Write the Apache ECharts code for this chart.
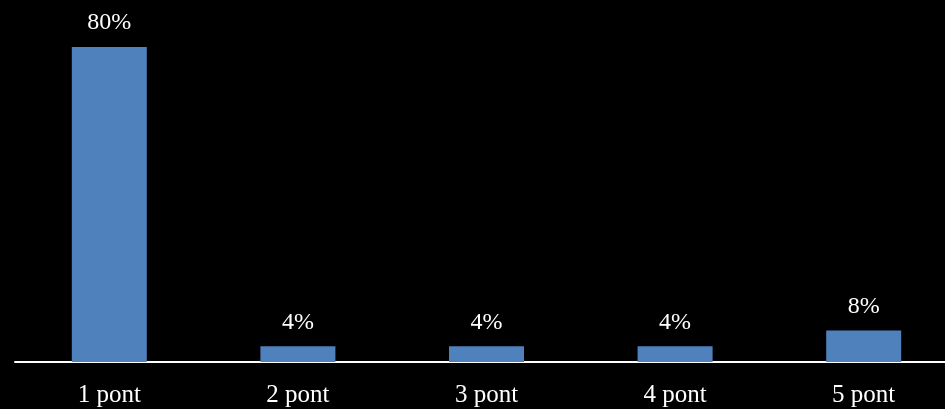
<!DOCTYPE html>
<html>
<head>
<meta charset="utf-8">
<style>
html,body{margin:0;padding:0;background:#000;overflow:hidden;width:945px;height:409px;}
#chart{width:958px;height:409px;}
</style>
<script src="https://cdn.jsdelivr.net/npm/echarts@6/dist/echarts.min.js"></script>
</head>
<body>
<div id="chart"></div>
<script>
const categories = ['1 pont', '2 pont', '3 pont', '4 pont', '5 pont'];
const values = [80, 4, 4, 4, 8];

const chart = echarts.init(document.getElementById('chart'));
chart.setOption({
  backgroundColor: '#000000',
  animation: false,
  grid: { left: 15, right: 0, top: 47, bottom: 47 },
  xAxis: {
    type: 'category',
    data: categories,
    axisLine: { show: true, lineStyle: { color: '#ffffff', width: 2 } },
    axisTick: { show: false },
    axisLabel: {
      color: '#ffffff',
      fontFamily: 'Liberation Serif',
      fontSize: 25,
      margin: 21
    }
  },
  yAxis: {
    type: 'value',
    min: 0,
    max: 80,
    show: false,
    splitLine: { show: false }
  },
  series: [{
    type: 'bar',
    data: values,
    barWidth: 75,
    itemStyle: { color: '#4F81BD' },
    label: {
      show: true,
      position: 'top',
      distance: 12,
      color: '#ffffff',
      fontFamily: 'Liberation Serif',
      fontSize: 24,
      formatter: '{c}%'
    }
  }]
});
</script>
</body>
</html>
